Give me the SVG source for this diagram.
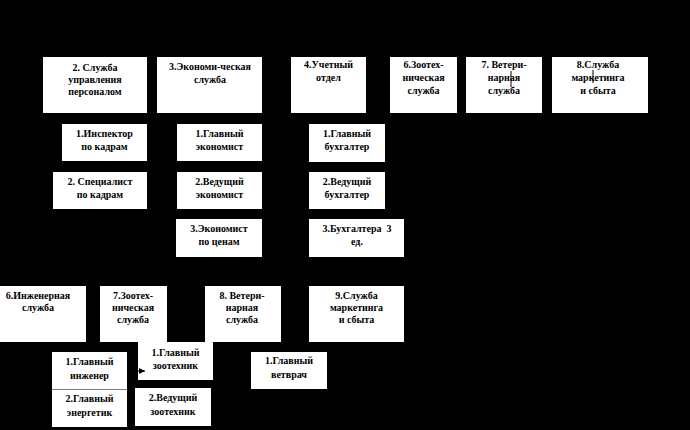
<svg xmlns="http://www.w3.org/2000/svg" width="690" height="430" viewBox="0 0 690 430">
<defs>
<style>
.box{fill:#fff;stroke:none}
.t{font-family:"Liberation Serif","Times New Roman",serif;font-size:10px;font-weight:bold;fill:#000;text-anchor:middle}
.c{stroke:#000;stroke-width:1;fill:none}
</style>
<marker id="ah" viewBox="0 0 10 10" refX="10" refY="5" markerWidth="6" markerHeight="6" markerUnits="userSpaceOnUse" orient="auto">
<path d="M0,0 L10,5 L0,10 z" fill="#000"/>
</marker>
</defs>
<rect x="0" y="0" width="690" height="430" fill="#000"/>

<g id="n-personnel"><rect class="box" x="43" y="57" width="104" height="56"/>
<text class="t" x="95" y="71">2. Служба</text><text class="t" x="95" y="83">управления</text><text class="t" x="95" y="95">персоналом</text></g>
<g id="n-econ"><rect class="box" x="157" y="57" width="105" height="56"/>
<text class="t" x="210" y="70">3.Экономи-ческая</text><text class="t" x="210" y="83">служба</text></g>
<g id="n-account"><rect class="box" x="291" y="57" width="75" height="56"/>
<text class="t" x="328.5" y="68">4.Учетный</text><text class="t" x="328.5" y="81">отдел</text></g>
<g id="n-zoo1"><rect class="box" x="390" y="57" width="67" height="56"/>
<text class="t" x="423.5" y="68">6.Зоотех-</text><text class="t" x="423.5" y="81">ническая</text><text class="t" x="423.5" y="94">служба</text></g>
<g id="n-vet1"><rect class="box" x="466" y="57" width="76" height="56"/>
<text class="t" x="504" y="68">7. Ветери-</text><text class="t" x="504" y="81">нарная</text><text class="t" x="504" y="94">служба</text></g>
<g id="n-mark1"><rect class="box" x="552" y="57" width="96" height="56"/>
<text class="t" x="598" y="68">8.Служба</text><text class="t" x="598" y="81">маркетинга</text><text class="t" x="598" y="94">и сбыта</text></g>

<g id="n-insp"><rect class="box" x="62" y="124" width="85" height="37"/>
<text class="t" x="104.5" y="137">1.Инспектор</text><text class="t" x="104.5" y="150">по кадрам</text></g>
<g id="n-spec"><rect class="box" x="53" y="172" width="94" height="37"/>
<text class="t" x="100" y="185">2. Специалист</text><text class="t" x="100" y="198">по кадрам</text></g>
<g id="n-chiefecon"><rect class="box" x="177" y="124" width="85" height="37"/>
<text class="t" x="219.5" y="137">1.Главный</text><text class="t" x="219.5" y="150">экономист</text></g>
<g id="n-leadecon"><rect class="box" x="177" y="172" width="85" height="37"/>
<text class="t" x="219.5" y="185">2.Ведущий</text><text class="t" x="219.5" y="198">экономист</text></g>
<g id="n-priceecon"><rect class="box" x="176" y="219" width="86" height="38"/>
<text class="t" x="219" y="232">3.Экономист</text><text class="t" x="219" y="245">по ценам</text></g>
<g id="n-chiefacc"><rect class="box" x="309" y="124" width="76" height="38"/>
<text class="t" x="347" y="137">1.Главный</text><text class="t" x="347" y="150">бухгалтер</text></g>
<g id="n-leadacc"><rect class="box" x="309" y="172" width="76" height="37"/>
<text class="t" x="347" y="185">2.Ведущий</text><text class="t" x="347" y="198">бухгалтер</text></g>
<g id="n-acc3"><rect class="box" x="309" y="219" width="95" height="38"/>
<text class="t" x="357" y="232" xml:space="preserve">3.Бухгалтера  3</text><text class="t" x="357" y="245">ед.</text></g>

<g id="n-eng"><rect class="box" x="-10" y="286" width="96" height="56"/>
<text class="t" x="38" y="299">6.Инженерная</text><text class="t" x="38" y="311">служба</text></g>
<g id="n-zoo2"><rect class="box" x="100" y="286" width="67" height="56"/>
<text class="t" x="133" y="299">7.Зоотех-</text><text class="t" x="133" y="311">ническая</text><text class="t" x="133" y="323">служба</text></g>
<g id="n-vet2"><rect class="box" x="205" y="286" width="76" height="56"/>
<text class="t" x="242" y="299">8. Ветери-</text><text class="t" x="242" y="311">нарная</text><text class="t" x="242" y="323">служба</text></g>
<g id="n-mark2"><rect class="box" x="309" y="286" width="95" height="56"/>
<text class="t" x="356.5" y="299">9.Служба</text><text class="t" x="356.5" y="311">маркетинга</text><text class="t" x="356.5" y="323">и сбыта</text></g>

<g id="n-chiefeng"><rect class="box" x="52" y="352" width="75" height="37"/>
<text class="t" x="89.5" y="365">1.Главный</text><text class="t" x="89.5" y="379">инженер</text></g>
<g id="n-chiefpower"><rect class="box" x="52" y="390" width="75" height="37"/>
<text class="t" x="89.5" y="402">2.Главный</text><text class="t" x="89.5" y="416">энергетик</text></g>
<g id="n-chiefzoo"><rect class="box" x="138" y="342" width="75" height="38"/>
<text class="t" x="175.5" y="356">1.Главный</text><text class="t" x="175.5" y="369">зоотехник</text></g>
<g id="n-leadzoo"><rect class="box" x="135" y="388" width="76" height="38"/>
<text class="t" x="173" y="401">2.Ведущий</text><text class="t" x="173" y="415">зоотехник</text></g>
<g id="n-chiefvet"><rect class="box" x="251" y="352" width="76" height="37"/>
<text class="t" x="289" y="364">1.Главный</text><text class="t" x="289" y="378">ветврач</text></g>

<g id="connectors">
<line class="c" x1="511" y1="71" x2="511" y2="87"/>
<line class="c" x1="593" y1="70" x2="593" y2="83"/>
<line x1="52" y1="389.5" x2="127" y2="389.5" stroke="#808080" stroke-width="1"/>
<line class="c" x1="127" y1="371" x2="145" y2="371" marker-end="url(#ah)"/>
</g>
</svg>
